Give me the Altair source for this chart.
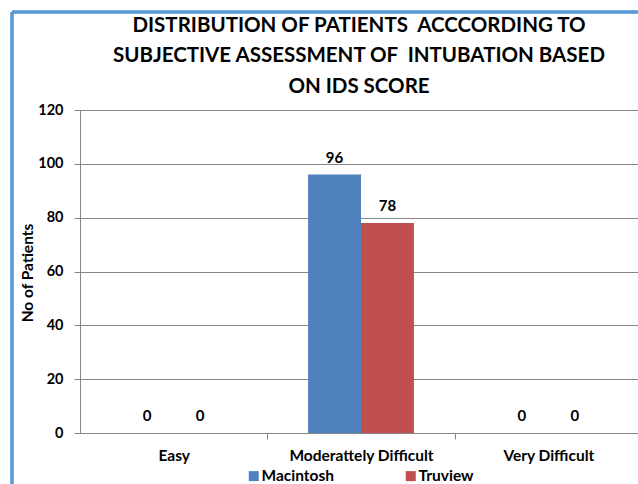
import altair as alt
import pandas as pd

categories = ["Easy", "Moderattely Difficult", "Very Difficult"]
series = ["Macintosh", "Truview"]
macintosh = [0, 96, 0]
truview = [0, 78, 0]
colors = ["#4F81BD", "#C0504D"]
title_lines = ["DISTRIBUTION OF PATIENTS\u00a0 ACCCORDING TO",
               "SUBJECTIVE ASSESSMENT OF\u00a0 INTUBATION BASED",
               "ON IDS SCORE"]

rows = []
for i, c in enumerate(categories):
    rows.append({"cat": c, "series": series[0], "value": macintosh[i]})
    rows.append({"cat": c, "series": series[1], "value": truview[i]})
df = pd.DataFrame(rows)

FONT = "Lato"
W, H = 562, 323
PI = 0.435
HALF_STEP = W / 3 / 2

x = alt.X("cat:N", sort=categories, title=None,
          scale=alt.Scale(paddingInner=PI, paddingOuter=PI / 2),
          axis=alt.Axis(labelAngle=0, labelFont=FONT, labelFontWeight="bold",
                        labelFontSize=15.5, labelColor="#000000", labelPadding=9,
                        tickOffset=HALF_STEP, labelOffset=-HALF_STEP,
                        tickSize=6, tickColor="#868686",
                        domainColor="#868686", grid=False))
xo = alt.XOffset("series:N", sort=series, scale=alt.Scale(paddingInner=0, paddingOuter=0))
y = alt.Y("value:Q", title="No of Patients",
          scale=alt.Scale(domain=[0, 120], nice=False),
          axis=alt.Axis(values=[0, 20, 40, 60, 80, 100, 120], labelFont=FONT,
                        labelFontWeight="bold", labelFontSize=14.5, labelColor="#000000",
                        titleFont=FONT, titleFontWeight="bold", titleFontSize=15.5,
                        titleColor="#000000", titleX=-53, titleY=H / 2 + 1,
                        titleAlign="center", titleBaseline="middle", titleAngle=270,
                        tickSize=6, tickColor="#868686", domainColor="#868686",
                        gridColor="#868686", gridWidth=1, labelPadding=11))

bars = alt.Chart(df).mark_bar().encode(
    x=x, xOffset=xo, y=y,
    color=alt.Color("series:N", sort=series,
                    scale=alt.Scale(domain=series, range=colors),
                    legend=alt.Legend(title=None, orient="none", direction="horizontal",
                                      legendX=166, legendY=358, symbolType="square",
                                      symbolSize=100, symbolStrokeWidth=0,
                                      labelFont=FONT, labelFontWeight="bold",
                                      labelFontSize=15.5, labelColor="#000000",
                                      columnPadding=68, labelOffset=0)),
)

labels = alt.Chart(df).mark_text(dy=-9, font=FONT, fontWeight="bold", fontSize=15,
                                 color="#000000", baseline="bottom").encode(
    x=alt.X("cat:N", sort=categories), xOffset=alt.XOffset("series:N", sort=series),
    y="value:Q", text="value:Q")

border_left = alt.Chart(df).mark_rule(color="#5B9BD5", strokeWidth=2.5).encode(
    x=alt.value(-68), y=alt.value(-98), y2=alt.value(H + 60))
border_top = alt.Chart(df).mark_rule(color="#5B9BD5", strokeWidth=2.5).encode(
    x=alt.value(-68), x2=alt.value(W), y=alt.value(-98))

chart = alt.layer(bars, labels, border_left, border_top).properties(
    width=W, height=H,
    autosize=alt.AutoSizeParams(type="none"),
    padding={"left": 80, "top": 110, "right": -4, "bottom": 51},
    title=alt.TitleParams(text=title_lines, font=FONT, fontSize=20.5, fontWeight="bold",
                          color="#000000", anchor="middle", offset=-86.5, lineHeight=30.5,
                          dx=-2),
).configure_view(stroke=None).configure(background="#FFFFFF")

chart.save("out.html", embed_options={"renderer": "svg", "actions": False})
